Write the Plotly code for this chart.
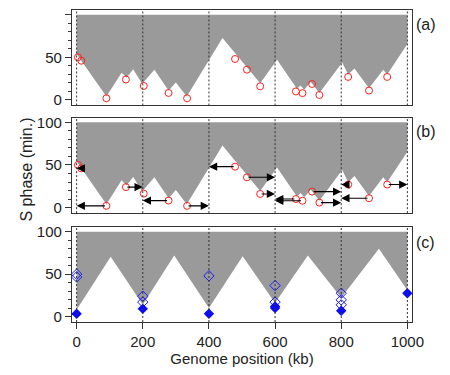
import plotly.graph_objects as go

# replication timing profile (lower edge of the gray area), panels (a) and (b)
prof_x = [0, 90, 136, 151, 171, 198, 235, 278, 300, 333, 441, 555, 606, 666, 677, 688, 708, 734, 803, 821, 840, 884, 927, 939, 1000]
prof_y = [54, 4, 32, 26, 36, 19, 35.5, 11, 20.5, 4, 72.7, 19.5, 47, 13, 17, 12, 21, 8, 44, 29.7, 37, 13.6, 35.5, 29.7, 65.6]

# fitted profile, panel (c)
model_x = [0, 103, 200, 295, 400, 502, 600, 699, 800, 914, 1000]
model_y = [8, 70.6, 14, 72, 10, 71, 16, 72, 22, 80, 31]

# origins (dotted lines)
origins = [0, 200, 400, 600, 800, 1000]

# measured points (red circles)
circ_x = [4, 14, 90, 149, 203, 278, 334, 479, 515, 555, 663, 683, 712, 734, 821, 884, 939]
circ_y = [50, 46, 2, 24, 16.4, 8.2, 2, 48, 35.5, 16, 10, 8, 18.7, 5.8, 27, 11, 27]
# origin each point is assigned to (arrows in panel b)
circ_to = [0, 0, 0, 200, 200, 200, 400, 400, 600, 600, 600, 600, 800, 800, 800, 800, 1000]

# panel (c) diamonds
open_x = [0, 0, 200, 200, 400, 600, 600, 800, 800, 800]
open_y = [50, 46.7, 24, 17, 48, 36.5, 17, 27.5, 19.6, 13.8]
fill_x = [0, 200, 400, 600, 600, 800, 1000]
fill_y = [3.2, 9, 3.2, 11.8, 9.9, 6.7, 27.5]

FONT = "Liberation Sans, Arial, sans-serif"
GRAY = "#9a9a9a"

fig = go.Figure()

def gray_area(xs, ys, ax):
    fig.add_trace(go.Scatter(
        x=[xs[0]] + xs + [xs[-1]], y=[100] + ys + [100],
        fill="toself", fillcolor=GRAY, mode="none",
        xaxis="x" + ax, yaxis="y" + ax, showlegend=False, hoverinfo="skip"))

gray_area(prof_x, prof_y, "")
gray_area(prof_x, prof_y, "2")
gray_area(model_x, model_y, "3")

for ax in ["", "2"]:
    fig.add_trace(go.Scatter(x=circ_x, y=circ_y, mode="markers",
                             marker=dict(symbol="circle-open", size=7, color="#ff2020", line=dict(width=1)),
                             xaxis="x" + ax, yaxis="y" + ax, showlegend=False))

fig.add_trace(go.Scatter(x=open_x, y=open_y, mode="markers",
                         marker=dict(symbol="diamond-open", size=8, color="#1a1aff", line=dict(width=1)),
                         xaxis="x3", yaxis="y3", showlegend=False))
fig.add_trace(go.Scatter(x=fill_x, y=fill_y, mode="markers",
                         marker=dict(symbol="diamond", size=8, color="#0a0aff"),
                         xaxis="x3", yaxis="y3", showlegend=False))

# arrows from each point to its origin (panel b)
for x0, y0, x1 in zip(circ_x, circ_y, circ_to):
    fig.add_annotation(x=x1, y=y0, ax=x0, ay=y0, xref="x2", yref="y2", axref="x2", ayref="y2",
                       text="", showarrow=True, arrowhead=2, arrowsize=1.5, arrowwidth=1.1,
                       arrowcolor="black", standoff=0, startstandoff=0)

# dotted origin lines
for ax in ["", "2", "3"]:
    for o in origins:
        fig.add_shape(type="line", x0=o, x1=o, y0=0, y1=1, xref="x" + ax, yref=("y" + ax + " domain"),
                      line=dict(color="#333333", width=1, dash="2px,2px"))

xbase = dict(range=[-14, 1014], showgrid=False, zeroline=False, showline=True, mirror=True,
             linecolor="#333333", linewidth=1.2, automargin=False)
ybase = dict(range=[-6.5, 105.5], showgrid=False, zeroline=False, showline=True, mirror=True,
             linecolor="#333333", linewidth=1.2, tickvals=[0, 50, 100], ticks="outside", ticklen=6,
             tickcolor="#333333", minor=dict(dtick=10, tick0=0, ticks="outside", ticklen=3, tickcolor="#333333"),
             tickfont=dict(size=15, color="#222222"), automargin=False)

# the page body adds an 8px offset, margins are set to compensate
doms = {"": [0.694, 1.0], "2": [0.349, 0.655], "3": [0.0, 0.304]}
layout = dict(
    width=450, height=375,
    margin=dict(l=64, r=46, t=2, b=61),
    paper_bgcolor="white", plot_bgcolor="white",
    font=dict(family=FONT, size=15, color="#222222"),
)
for ax, dom in doms.items():
    xa = dict(xbase, anchor="y" + ax)
    if ax == "3":
        xa.update(tickvals=origins, ticks="outside", ticklen=6, tickcolor="#333333",
                  tickfont=dict(size=15, color="#222222"),
                  title=dict(text="Genome position (kb)", font=dict(size=15), standoff=4))
    else:
        xa.update(showticklabels=False, ticks="")
    layout["xaxis" + ax] = xa
    layout["yaxis" + ax] = dict(ybase, domain=dom, anchor="x" + ax)
fig.update_layout(**layout)

# y title and panel labels
fig.add_annotation(text="S phase (min.)", xref="paper", yref="paper", x=-0.165, y=0.49,
                   textangle=-90, showarrow=False, font=dict(size=16))
for lab, ytop in [("(a)", 0.986), ("(b)", 0.643), ("(c)", 0.29)]:
    fig.add_annotation(text=lab, xref="paper", yref="paper", x=1.006, y=ytop,
                       xanchor="left", yanchor="top", showarrow=False, font=dict(size=16))

fig.write_html("out.html")
